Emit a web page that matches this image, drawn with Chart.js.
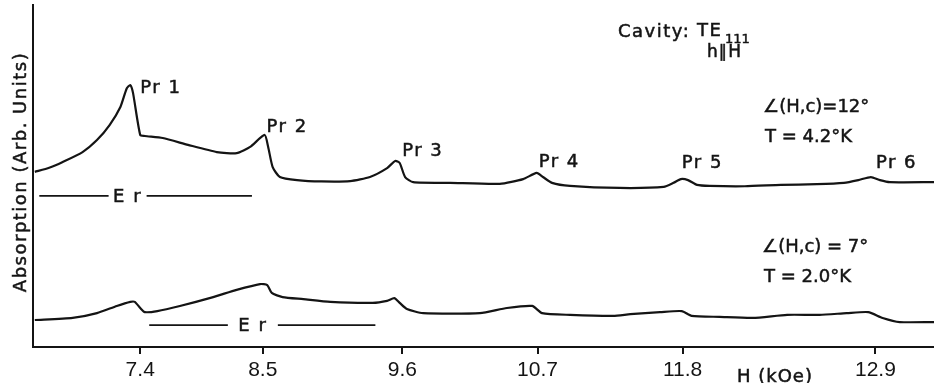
<!DOCTYPE html>
<html>
<head>
<meta charset="utf-8">
<script src="https://cdn.jsdelivr.net/npm/chart.js@4"></script>
<style>
  html, body { margin: 0; padding: 0; background: #fff; }
</style>
</head>
<body>
<canvas id="absorptionChart" width="934" height="383"></canvas>
<script>
// Recorder sweep position (0-100 across the chart) and the field calibration marks
const fieldLabels = ['7.4', '8.5', '9.6', '10.7', '11.8', '12.9'];
const fieldTickPos = [11.9, 25.5, 41.0, 56.0, 72.1, 93.5];

// Upper trace: angle(H,c) = 12 deg, T = 4.2 K
const upperSweep = [0.2, 1.8, 3.3, 5.5, 7.1, 8.5, 9.7, 10.4, 10.8, 11.1, 11.9, 12.4, 14.4, 17.2, 20.4, 22.6, 24.1, 25.7,
  26.1, 26.6, 27.4, 29.3, 32.0, 35.2, 37.4, 39.3, 40.2, 40.7, 41.3, 42.2, 46.3, 51.8, 54.4, 55.9, 56.6, 57.6, 59.6,
  65.1, 70.0, 71.1, 71.9, 72.7, 73.7, 75.1, 79.0, 83.0, 87.0, 90.0, 91.6, 93.0, 94.0, 95.1, 100.0];
const upperSignal = [51.2, 52.4, 54.1, 57.0, 60.5, 64.9, 70.2, 75.6, 76.6, 74.3, 62.0, 61.7, 61.1, 59.1, 57.0, 56.7, 58.5, 62.0,
  58.5, 52.6, 49.7, 48.8, 48.4, 48.5, 49.7, 52.3, 54.4, 53.8, 49.7, 48.2, 48.0, 47.7, 49.1, 50.9, 49.7, 48.0, 47.1,
  46.5, 46.8, 48.0, 49.1, 48.8, 47.4, 47.1, 47.0, 47.4, 47.6, 48.0, 48.8, 49.7, 48.8, 48.2, 48.2];

// Lower trace: angle(H,c) = 7 deg, T = 2.0 K
const lowerSweep = [0.2, 4.4, 7.1, 9.3, 10.8, 11.3, 11.9, 12.4, 13.8, 16.3, 20.0, 22.6, 25.2, 26.0, 26.5, 27.7, 30.0, 33.0,
  37.7, 39.3, 40.1, 40.7, 41.5, 43.3, 49.6, 52.6, 55.4, 56.5, 59.6, 64.4, 66.3, 69.6, 72.0, 73.1, 76.2, 79.9, 83.7,
  87.3, 90.3, 92.7, 94.3, 96.2, 100.0];
const lowerSignal = [7.9, 8.5, 9.9, 12.0, 13.2, 13.2, 11.4, 10.2, 10.5, 12.0, 14.6, 16.7, 18.4, 18.1, 15.8, 14.6, 14.0, 13.2,
  12.9, 13.5, 14.3, 12.9, 11.1, 9.9, 9.9, 11.4, 12.0, 9.9, 9.4, 9.1, 9.6, 10.2, 10.5, 9.1, 8.8, 8.5, 9.4,
  9.4, 9.9, 10.2, 8.5, 7.3, 7.3];

// Pr lines marked on the upper trace
const peakNames = ['Pr 1', 'Pr 2', 'Pr 3', 'Pr 4', 'Pr 5', 'Pr 6'];
const peakSweep = [10.8, 25.7, 40.2, 55.9, 71.9, 93.0];
const peakSignal = [76.6, 62.0, 54.4, 50.9, 49.1, 49.7];

// Er absorption ranges (sweep from/to, label position, level)
const erUpper = [0.7, 24.3, 10.5, 44.2];
const erLower = [12.9, 38.0, 24.4, 6.4];

const INK = '#141414';
const TEXT_FONT = '"DejaVu Sans", sans-serif';

const toPoints = (xs, ys) => xs.map((x, i) => ({ x: x, y: ys[i] }));

// pixel offsets of each Pr label (left edge, middle) from its peak
const peakLabelShift = [[10, 3], [2, -8], [7, -10], [2, -11], [1, -16], [5, -14]];

// filled text with a thin outline so the lettering reads as heavy as the traces
function inkText(ctx, text, x, y) {
  ctx.fillText(text, x, y);
  ctx.strokeText(text, x, y);
}

const annotationPlugin = {
  id: 'traceAnnotations',
  afterDraw(chart) {
    const { ctx, scales: { x, y } } = chart;
    ctx.save();
    ctx.fillStyle = INK;
    ctx.strokeStyle = INK;
    ctx.textBaseline = 'middle';
    ctx.textAlign = 'left';

    // peak labels
    ctx.font = '18px ' + TEXT_FONT;
    ctx.letterSpacing = '1.5px';
    ctx.lineWidth = 0.5;
    peakNames.forEach((name, i) => {
      const px = x.getPixelForValue(peakSweep[i]) + peakLabelShift[i][0];
      const py = y.getPixelForValue(peakSignal[i]) + peakLabelShift[i][1];
      inkText(ctx, name, px, py);
    });

    // Er range bars with the label in a gap
    const drawEr = (band, gap) => {
      const x0 = x.getPixelForValue(band[0]);
      const x1 = x.getPixelForValue(band[1]);
      const xc = x.getPixelForValue(band[2]);
      const yy = y.getPixelForValue(band[3]);
      ctx.lineWidth = 1.8;
      ctx.beginPath();
      ctx.moveTo(x0, yy);
      ctx.lineTo(xc - gap, yy);
      ctx.moveTo(xc + gap, yy);
      ctx.lineTo(x1, yy);
      ctx.stroke();
      ctx.lineWidth = 0.5;
      ctx.textAlign = 'center';
      inkText(ctx, 'E r', xc, yy + 1);
      ctx.textAlign = 'left';
    };
    drawEr(erUpper, 19);
    drawEr(erLower, 25);

    // cavity and measurement conditions
    inkText(ctx, 'Cavity:', 618, 32);
    inkText(ctx, 'TE', 697, 31);
    ctx.font = '13px ' + TEXT_FONT;
    ctx.letterSpacing = '0px';
    inkText(ctx, '111', 725, 40);
    ctx.font = '17px ' + TEXT_FONT;
    ctx.letterSpacing = '1px';
    inkText(ctx, 'h\u2225H', 707, 53);

    ctx.font = '18px ' + TEXT_FONT;
    ctx.letterSpacing = '0px';
    inkText(ctx, '\u2220(H,c)=12\u00b0', 763, 107);
    inkText(ctx, 'T = 4.2\u00b0K', 765, 137);
    inkText(ctx, '\u2220(H,c) = 7\u00b0', 762, 247);
    inkText(ctx, 'T = 2.0\u00b0K', 764, 277);

    // axis titles
    ctx.letterSpacing = '1px';
    inkText(ctx, 'H (kOe)', 737, 377);
    ctx.translate(21, 172);
    ctx.rotate(-Math.PI / 2);
    ctx.textAlign = 'center';
    ctx.font = '18px ' + TEXT_FONT;
    ctx.letterSpacing = '1.5px';
    inkText(ctx, 'Absorption (Arb. Units)', 0, 0);
    ctx.restore();
  }
};

const traceStyle = {
  borderColor: INK,
  borderWidth: 2.2,
  pointRadius: 0,
  fill: false,
  tension: 0.2
};

new Chart(document.getElementById('absorptionChart').getContext('2d'), {
  type: 'line',
  data: {
    datasets: [
      Object.assign({ label: '12 deg, 4.2 K', data: toPoints(upperSweep, upperSignal) }, traceStyle),
      Object.assign({ label: '7 deg, 2.0 K', data: toPoints(lowerSweep, lowerSignal) }, traceStyle)
    ]
  },
  options: {
    responsive: false,
    animation: false,
    devicePixelRatio: 1,
    layout: { padding: { top: 5, right: 0, left: 0, bottom: 0 } },
    plugins: {
      legend: { display: false },
      tooltip: { enabled: false }
    },
    scales: {
      x: {
        type: 'linear',
        min: 0,
        max: 100,
        afterFit: scale => { scale.height = 36; },
        afterBuildTicks: scale => { scale.ticks = fieldTickPos.map(v => ({ value: v })); },
        ticks: {
          autoSkip: false,
          maxRotation: 0,
          padding: 4,
          color: INK,
          font: { family: '"Liberation Sans Narrow", "Liberation Sans", sans-serif', size: 21 },
          callback: (value, index) => fieldLabels[index]
        },
        grid: { display: true, drawOnChartArea: false, drawTicks: true, tickLength: 7, color: INK, lineWidth: 2 },
        border: { display: true, color: INK, width: 2 }
      },
      y: {
        type: 'linear',
        min: 0,
        max: 100,
        afterFit: scale => { scale.width = 33; },
        ticks: { display: false },
        grid: { display: false },
        border: { display: true, color: INK, width: 2 }
      }
    }
  },
  plugins: [annotationPlugin]
});
</script>
</body>
</html>
